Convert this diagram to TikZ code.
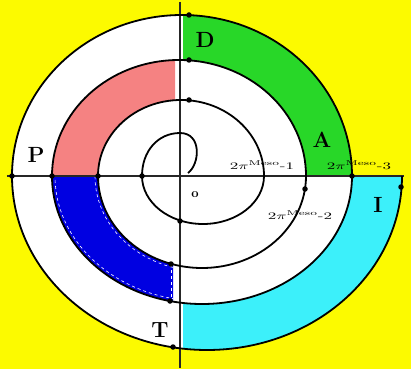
\documentclass[tikz,border=0pt]{standalone}
\usepackage{tikz}
\usepackage{xcolor}

\definecolor{bgyellow}{RGB}{252,250,0}
\definecolor{bandgreen}{RGB}{40,215,40}
\definecolor{bandpink}{RGB}{245,130,130}
\definecolor{bandblue}{RGB}{0,0,225}
\definecolor{bandcyan}{RGB}{60,240,250}

\begin{document}
\begin{tikzpicture}[x=1pt, y=1pt]
\tikzstyle{curve} = [line width=1.8pt, black]
\tikzstyle{axis} = [line width=1.8pt, black!85]
\tikzstyle{dot} = [circle, fill=black, inner sep=0pt, minimum size=5.5pt]
\tikzstyle{letter} = [font=\fontsize{22}{24}\selectfont\bfseries, inner sep=0pt]
\tikzstyle{tag} = [font=\fontsize{10}{11}\selectfont, inner sep=0pt]

\fill[bgyellow] (-180,-193) rectangle (231,176);
\useasboundingbox (-180,-193) rectangle (231,176);

% inside of the outer turn
\fill[white] (-168,0) arc[start angle=180, end angle=360, x radius=195, y radius=174]
  -- (172,0) arc[start angle=0, end angle=180, x radius=170, y radius=161] -- cycle;

% coloured bands
\begin{scope}
\clip (3,0) rectangle (230,175);
\fill[bandgreen, even odd rule] (2,0) ellipse[x radius=170, y radius=161] (-1,0) ellipse[x radius=127, y radius=116];
\end{scope}
\begin{scope}
\clip (-179,0) rectangle (-5,175);
\fill[bandpink, even odd rule] (-1,0) ellipse[x radius=127, y radius=116] (1,0) ellipse[x radius=83, y radius=76];
\end{scope}
\begin{scope}
\clip (-179,-192) rectangle (-7,0);
\fill[bandblue, even odd rule] (22,0) ellipse[x radius=150, y radius=128] (22,0) ellipse[x radius=104, y radius=92];
\draw[white, dashed, line width=0.6pt] (22,0) ellipse[x radius=147, y radius=125] (22,0) ellipse[x radius=107, y radius=95];
\draw[white, dashed, line width=0.6pt] (-9,-88) -- (-9,-126);
\end{scope}
\begin{scope}
\clip (3,-192) rectangle (230,0);
\fill[bandcyan, even odd rule] (27,0) ellipse[x radius=195, y radius=174] (22,0) ellipse[x radius=150, y radius=128];
\end{scope}

% axes
\coordinate (west) at (-173,0);
\coordinate (east) at (224,0);
\coordinate (north) at (0,174);
\coordinate (south) at (0,-192);
\draw[axis] (west) -- (east);
\draw[axis] (north) -- (south);

% spiral of half turns
\draw[curve] (8,3) .. controls (20,12) and (22,43) .. (0,43)
  .. controls (-22,43) and (-38,25) .. (-38,0)
  arc[start angle=180, end angle=360, x radius=61, y radius=48]
  arc[start angle=0, end angle=180, x radius=83, y radius=76]
  arc[start angle=180, end angle=360, x radius=104, y radius=92]
  arc[start angle=0, end angle=180, x radius=127, y radius=116]
  arc[start angle=180, end angle=360, x radius=150, y radius=128]
  arc[start angle=0, end angle=180, x radius=170, y radius=161]
  arc[start angle=180, end angle=360, x radius=195, y radius=174];

% marks on the axes
\node[dot] (w4) at (-168,0) {};
\node[dot] (w3) at (-128,0) {};
\node[dot] (w2) at (-82,0) {};
\node[dot] (w1) at (-38,0) {};
\node[dot] (e2) at (125,-13) {};
\node[dot] (e3) at (172,0) {};
\node[dot] (e4) at (221,-11) {};
\node[dot] (n4) at (9,161) {};
\node[dot] (n3) at (9,116) {};
\node[dot] (n2) at (9,76) {};
\node[dot] (s1) at (0,-45) {};
\node[dot] (s2) at (-9,-88) {};
\node[dot] (s3) at (-10,-125) {};
\node[dot] (s4) at (-7,-171) {};

% letters
\node[letter] (D) at (25,136) {D};
\node[letter] (A) at (142,36) {A};
\node[letter] (P) at (-144,21) {P};
\node[letter] (I) at (198,-29) {I};
\node[letter] (T) at (-20,-154) {T};
\node[tag, font=\fontsize{13}{14}\selectfont\bfseries] (origin) at (15,-19) {o};

% turn labels
\node[tag] (turn1) at (82,11) {\scalebox{1.7}[1]{$2\pi^{\mathrm{Meso}}$-1}};
\node[tag] (turn3) at (179,11) {\scalebox{1.7}[1]{$2\pi^{\mathrm{Meso}}$-3}};
\node[tag] (turn2) at (120,-39) {\scalebox{1.7}[1]{$2\pi^{\mathrm{Meso}}$-2}};

\end{tikzpicture}
\end{document}
